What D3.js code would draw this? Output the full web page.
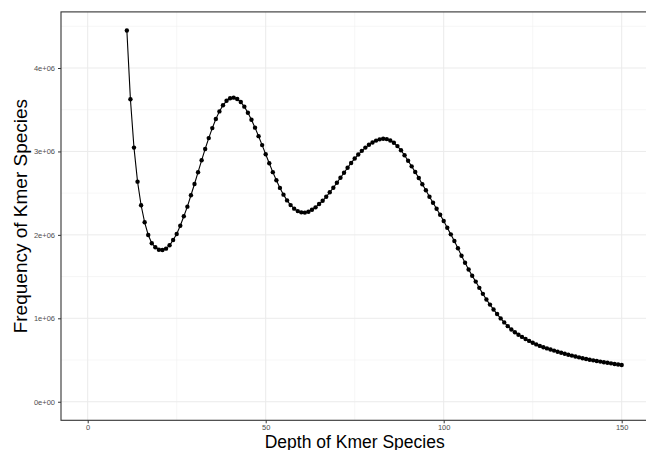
<!DOCTYPE html>
<html>
<head>
<meta charset="utf-8">
<script src="https://cdn.jsdelivr.net/npm/d3@7/dist/d3.min.js"></script>
<style>
  html, body { margin: 0; padding: 0; background: #ffffff; }
  svg { display: block; }
  text { font-family: "Liberation Sans", Arial, Helvetica, sans-serif; }
</style>
</head>
<body>
<svg id="chart" width="646" height="450"></svg>
<script>
// ---- Data (depth 11..150, frequency in millions) ----
const depthStart = 11;
const freqMillions = [
  4.450, 3.626, 3.046, 2.638, 2.355, 2.151, 1.999, 1.899, 1.851, 1.822, // 11-20
  1.818, 1.835, 1.875, 1.939, 2.011, 2.110, 2.223, 2.338, 2.475, 2.610, // 21-30
  2.751, 2.894, 3.030, 3.160, 3.280, 3.388, 3.480, 3.553, 3.607, 3.638, // 31-40
  3.645, 3.628, 3.592, 3.537, 3.464, 3.380, 3.285, 3.183, 3.076, 2.967, // 41-50
  2.858, 2.752, 2.654, 2.563, 2.482, 2.413, 2.357, 2.314, 2.285, 2.270, // 51-60
  2.267, 2.277, 2.301, 2.330, 2.370, 2.409, 2.457, 2.510, 2.565, 2.625, // 61-70
  2.685, 2.745, 2.805, 2.862, 2.915, 2.963, 3.007, 3.046, 3.080, 3.108, // 71-80
  3.130, 3.145, 3.152, 3.148, 3.132, 3.104, 3.064, 3.014, 2.955, 2.889, // 81-90
  2.821, 2.753, 2.681, 2.606, 2.534, 2.457, 2.385, 2.313, 2.241, 2.166, // 91-100
  2.086, 2.006, 1.926, 1.839, 1.750, 1.665, 1.585, 1.510, 1.440, 1.365, // 101-110
  1.293, 1.226, 1.164, 1.106, 1.051, 0.999, 0.951, 0.906, 0.866, 0.832, // 111-120
  0.803, 0.777, 0.752, 0.729, 0.707, 0.687, 0.669, 0.653, 0.639, 0.626, // 121-130
  0.613, 0.600, 0.588, 0.576, 0.564, 0.553, 0.542, 0.532, 0.522, 0.513, // 131-140
  0.504, 0.496, 0.488, 0.481, 0.474, 0.467, 0.460, 0.453, 0.447, 0.441  // 141-150
];
const depths = freqMillions.map((_, i) => depthStart + i);
const xTicks = [0, 50, 100, 150];
const xMinorTicks = [25, 75, 125];
const yTicks = [0, 1e6, 2e6, 3e6, 4e6];
const yTickLabels = ["0e+00", "1e+06", "2e+06", "3e+06", "4e+06"];
const yMinorTicks = [0.5e6, 1.5e6, 2.5e6, 3.5e6, 4.5e6];
const xTitle = "Depth of Kmer Species";
const yTitle = "Frequency of Kmer Species";

const data = depths.map((d, i) => ({ x: d, y: freqMillions[i] * 1e6 }));

// ---- Layout ----
const panel = { left: 61, top: 11.9, right: 648.4, bottom: 420.3 };
const svg = d3.select("#chart");

const x = d3.scaleLinear().domain([-7.5, 157.5]).range([panel.left, panel.right]);
const y = d3.scaleLinear().domain([-0.2225e6, 4.6725e6]).range([panel.bottom, panel.top]);

svg.append("rect")
  .attr("x", panel.left).attr("y", panel.top)
  .attr("width", panel.right - panel.left).attr("height", panel.bottom - panel.top)
  .attr("fill", "#ffffff");

const grid = svg.append("g");
grid.selectAll("line.xminor").data(xMinorTicks).enter().append("line")
  .attr("x1", d => x(d)).attr("x2", d => x(d))
  .attr("y1", panel.top).attr("y2", panel.bottom)
  .attr("stroke", "#f0f0f0").attr("stroke-width", 0.6);
grid.selectAll("line.yminor").data(yMinorTicks).enter().append("line")
  .attr("y1", d => y(d)).attr("y2", d => y(d))
  .attr("x1", panel.left).attr("x2", panel.right)
  .attr("stroke", "#f0f0f0").attr("stroke-width", 0.6);
grid.selectAll("line.xmajor").data(xTicks).enter().append("line")
  .attr("x1", d => x(d)).attr("x2", d => x(d))
  .attr("y1", panel.top).attr("y2", panel.bottom)
  .attr("stroke", "#ebebeb").attr("stroke-width", 1);
grid.selectAll("line.ymajor").data(yTicks).enter().append("line")
  .attr("y1", d => y(d)).attr("y2", d => y(d))
  .attr("x1", panel.left).attr("x2", panel.right)
  .attr("stroke", "#ebebeb").attr("stroke-width", 1);

const line = d3.line().x(d => x(d.x)).y(d => y(d.y));
svg.append("path").datum(data)
  .attr("d", line).attr("fill", "none")
  .attr("stroke", "#000000").attr("stroke-width", 1.1);
svg.append("g").selectAll("circle").data(data).enter().append("circle")
  .attr("cx", d => x(d.x)).attr("cy", d => y(d.y))
  .attr("r", 2.2).attr("fill", "#000000");

svg.append("rect")
  .attr("x", panel.left).attr("y", panel.top)
  .attr("width", panel.right - panel.left).attr("height", panel.bottom - panel.top)
  .attr("fill", "none").attr("stroke", "#333333").attr("stroke-width", 1.1);

const xAxis = d3.axisBottom(x).tickValues(xTicks).tickSize(3).tickPadding(1.5).tickFormat(d3.format("d"));
const gx = svg.append("g").attr("transform", `translate(0,${panel.bottom})`).call(xAxis);
gx.select(".domain").remove();
gx.selectAll(".tick line").attr("stroke", "#333333");
gx.selectAll(".tick text").attr("fill", "#4d4d4d").style("font-size", "7.5px")
  .style("font-family", "'Liberation Sans', Arial, sans-serif");

const yAxis = d3.axisLeft(y).tickValues(yTicks).tickSize(3).tickPadding(3)
  .tickFormat((d, i) => yTickLabels[i]);
const gy = svg.append("g").attr("transform", `translate(${panel.left},0)`).call(yAxis);
gy.select(".domain").remove();
gy.selectAll(".tick line").attr("stroke", "#333333");
gy.selectAll(".tick text").attr("fill", "#4d4d4d").style("font-size", "7.5px")
  .style("font-family", "'Liberation Sans', Arial, sans-serif");

svg.append("text")
  .attr("x", (panel.left + panel.right) / 2).attr("y", 448)
  .attr("text-anchor", "middle").attr("fill", "#000000")
  .style("font-size", "17.5px").text(xTitle);
svg.append("text")
  .attr("transform", `translate(27,${(panel.top + panel.bottom) / 2}) rotate(-90)`)
  .attr("text-anchor", "middle").attr("fill", "#000000")
  .style("font-size", "19px").text(yTitle);
</script>
</body>
</html>
